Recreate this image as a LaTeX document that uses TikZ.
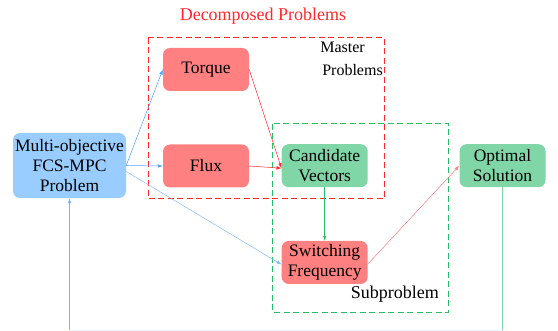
\documentclass[tikz,border=0pt]{standalone}
\usepackage{fontspec}
\setmainfont{Liberation Serif}
\newfontfamily\tnr{Liberation Serif}
\usetikzlibrary{arrows.meta}
\definecolor{nred}{RGB}{255,128,128}
\definecolor{ngreen}{RGB}{128,214,166}
\definecolor{nblue}{RGB}{153,204,255}
\definecolor{lred}{RGB}{255,40,40}
\definecolor{lgreen}{RGB}{40,190,100}
\definecolor{lblue}{RGB}{80,160,255}
\begin{document}
\begin{tikzpicture}[x=1pt,y=-1pt,
  box/.style={rounded corners=7pt, minimum width=86pt, minimum height=43pt, inner sep=0pt, align=center, font=\tnr\fontsize{17.5}{20}\selectfont},
  redbox/.style={box, fill=nred},
  greenbox/.style={box, fill=ngreen},
  bluebox/.style={box, fill=nblue, minimum width=113pt, minimum height=65pt},
  arr/.style={-{Latex[length=5pt,width=3.5pt]}, line width=0.5pt},
  frame/.style={dashed, dash pattern=on 6pt off 3.5pt, line width=0.8pt}
]
\useasboundingbox (0,0) rectangle (558,331);
% frames
\draw[frame, lred] (148,37.7) rectangle (384,198.7);
\draw[frame, lgreen] (272.3,123.7) rectangle (448.7,312);
% nodes
\node[bluebox] (mo) at (69.5,165.5) {Multi-objective\\FCS-MPC\\Problem};
\node[redbox] (tq) at (206,69.5) {Torque};
\node[redbox] (fx) at (206,166) {Flux};
\node[greenbox] (cv) at (324.7,165.7) {Candidate\\Vectors};
\node[redbox] (sf) at (324.7,262.5) {Switching\\Frequency};
\node[greenbox] (os) at (502.5,165.7) {Optimal\\Solution};
% labels
\node[text=lred, font=\tnr\fontsize{18}{20}\selectfont] (dp) at (263,16) {Decomposed Problems};
\node[anchor=base, inner sep=0pt, font=\tnr\fontsize{16}{22}\selectfont] (mp1) at (342.5,53) {Master};
\node[anchor=base, inner sep=0pt, font=\tnr\fontsize{16}{22}\selectfont] (mp2) at (352.5,76) {Problems};
\node[anchor=south east, inner sep=0pt, font=\tnr\fontsize{18}{20}\selectfont] (sp) at (439,303) {Subproblem};
% arrows
\draw[arr, lblue] (mo.east) -- (tq.west);
\draw[arr, lblue] (mo.east) -- (fx.west);
\draw[arr, lblue!70] ([yshift=-6pt]mo.east) -- ([yshift=-2pt]sf.west);
\draw[arr, lred] (tq.east) -- ([yshift=-2.5pt]cv.west);
\draw[arr, lred] (fx.east) -- ([yshift=-2.5pt]cv.west);
\draw[arr, lgreen] (cv.south) -- (sf.north);
\draw[arr, lred!60] ([yshift=-1.5pt]sf.east) -- (os.west);
% feedback
\coordinate (br) at (os.south |- 0,330);
\coordinate (bl) at (mo.south |- 0,330);
\draw[lgreen!60, line width=0.6pt] (os.south) -- (br);
\draw[nblue!25, line width=0.8pt] (br) -- (bl);
\draw[arr, lblue!80] (bl) -- (mo.south);
\end{tikzpicture}
\end{document}
